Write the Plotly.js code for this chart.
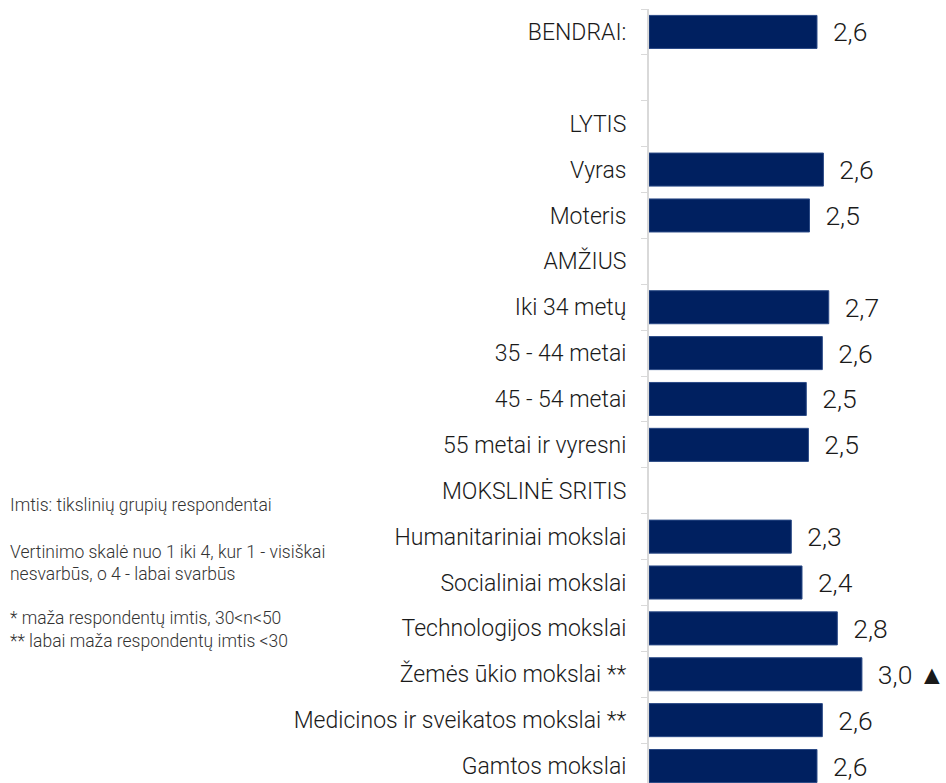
<!DOCTYPE html>
<html>
<head>
<meta charset="utf-8">
<script src="https://cdn.plot.ly/plotly-3.0.1.min.js"></script>
<style>html,body{margin:0;padding:0;background:#fff;}#chart{width:946px;height:783px;}</style>
</head>
<body>
<div id="chart"></div>
<script>
const categories = [
  "BENDRAI:", " ", "LYTIS", "Vyras", "Moteris", "AMŽIUS",
  "Iki 34 metų", "35 - 44 metai", "45 - 54 metai", "55 metai ir vyresni",
  "MOKSLINĖ SRITIS", "Humanitariniai mokslai", "Socialiniai mokslai",
  "Technologijos mokslai", "Žemės ūkio mokslai **",
  "Medicinos ir sveikatos mokslai **", "Gamtos mokslai"
];
const values = [
  2.57, null, null, 2.63, 2.50, null,
  2.68, 2.62, 2.47, 2.49,
  null, 2.33, 2.43,
  2.76, 2.99,
  2.62, 2.57
];
const markers = [
  "", "", "", "", "", "",
  "", "", "", "",
  "", "", "",
  "", " ▲",
  "", ""
];
const notes = [
  "Imtis: tikslinių grupių respondentai",
  "Vertinimo skalė nuo 1 iki 4, kur 1 - visiškai",
  "nesvarbūs, o 4 - labai svarbūs",
  "* maža respondentų imtis, 30<n<50",
  "** labai maža respondentų imtis <30"
];
const noteY = [505, 552, 574, 618, 641];

const FONT = "Roboto, 'Liberation Sans', Arial, sans-serif";
const W = 946, H = 783, L = 649, T = 9;

const trace = {
  type: "bar",
  orientation: "h",
  y: categories,
  x: values.map(v => v === null ? null : v - 1),
  base: 1,
  customdata: values,
  text: markers,
  texttemplate: "\u00a0\u00a0%{customdata:.1f}%{text}",
  textposition: "outside",
  cliponaxis: false,
  textfont: {family: FONT, size: 26.5, color: "#1a1a1a", weight: 300},
  marker: {color: "#002060", line: {color: "#2b4a86", width: 1}},
  width: 0.72,
  hoverinfo: "skip"
};

const annotations = notes.map((t, i) => ({
  xref: "paper", yref: "paper",
  x: (8 - L) / (W - L),
  y: 1 - (noteY[i] - T) / (H - T),
  xanchor: "left", yanchor: "middle",
  text: t, showarrow: false,
  font: {family: FONT, size: 17.5, color: "#333333", weight: 300}
}));

const layout = {
  width: W, height: H,
  margin: {l: L, r: 0, t: T, b: 0, pad: 0},
  paper_bgcolor: "#ffffff",
  plot_bgcolor: "#ffffff",
  separators: ", ",
  showlegend: false,
  xaxis: {
    range: [1, 1 + (W - L) / 107],
    visible: false,
    fixedrange: true
  },
  yaxis: {
    type: "category",
    categoryorder: "array",
    categoryarray: categories,
    range: [-0.5 + (H - T) / 45.88, -0.5],
    autorange: false,
    showline: true,
    linecolor: "#d9d9d9",
    linewidth: 2,
    ticks: "outside",
    tickson: "boundaries",
    ticklen: 6,
    tickcolor: "#d9d9d9",
    tickwidth: 1,
    showgrid: false,
    zeroline: false,
    ticklabelstandoff: 16,
    tickfont: {family: FONT, size: 23, color: "#1a1a1a", weight: 300},
    fixedrange: true
  },
  annotations: annotations
};

Plotly.newPlot("chart", [trace], layout, {displayModeBar: false, staticPlot: true});
</script>
</body>
</html>
